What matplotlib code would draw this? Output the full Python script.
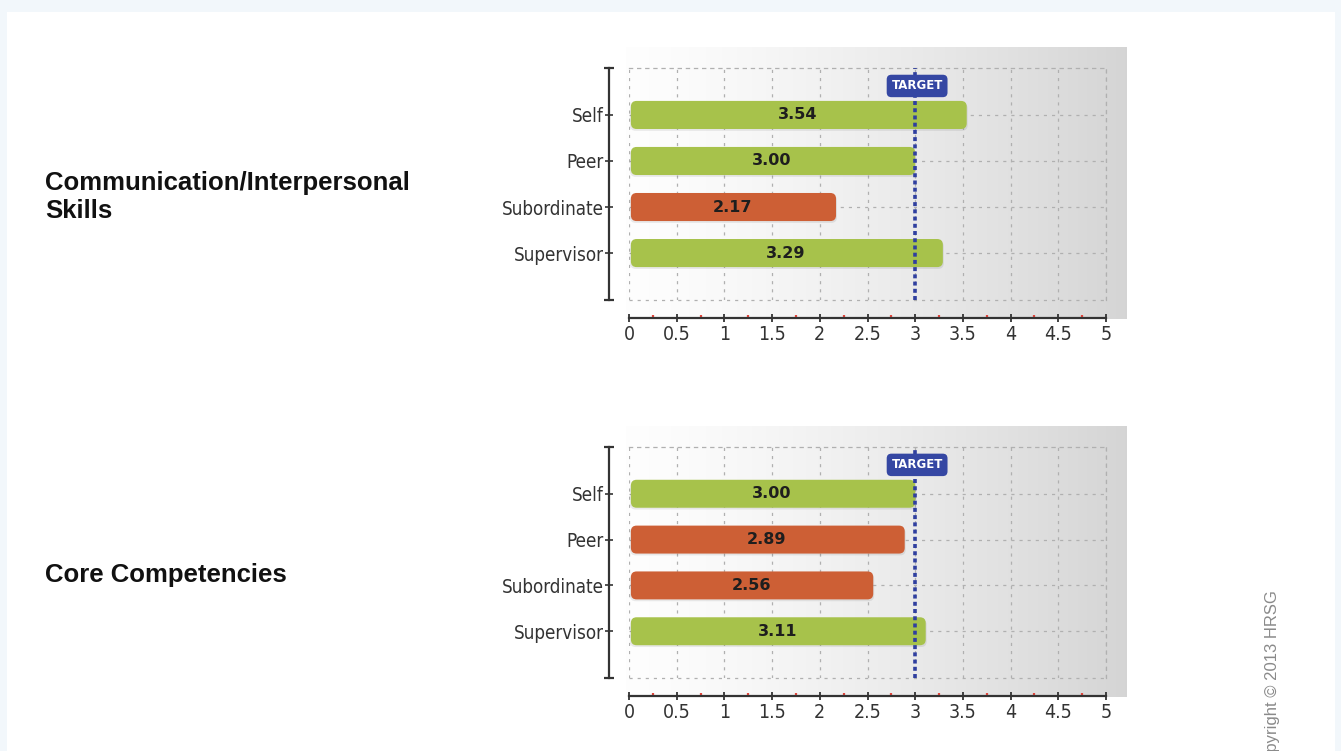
import matplotlib
matplotlib.use('Agg')
import matplotlib.pyplot as plt
import numpy as np
from matplotlib.patches import FancyBboxPatch, Rectangle
from matplotlib.transforms import offset_copy
from matplotlib.ticker import FixedLocator

W, H = 1341, 751

categories = ['Self', 'Peer', 'Subordinate', 'Supervisor']
panel_titles = ['Communication/Interpersonal\nSkills', 'Core Competencies']
comm_values = [3.54, 3.00, 2.17, 3.29]
core_values = [3.00, 2.89, 2.56, 3.11]
panel_values = [comm_values, core_values]
target = 3.0
target_label = 'TARGET'
x_ticks = [0, 0.5, 1, 1.5, 2, 2.5, 3, 3.5, 4, 4.5, 5]
x_tick_labels = ['0', '0.5', '1', '1.5', '2', '2.5', '3', '3.5', '4', '4.5', '5']
x_minor_ticks = [0.25, 0.75, 1.25, 1.75, 2.25, 2.75, 3.25, 3.75, 4.25, 4.75]
copyright_text = 'Copyright \u00a9 2013 HRSG'

GREEN = '#a7c24b'
ORANGE = '#cd5f35'
BLUE = '#2f3f9f'
AXC = '#333333'
GRIDC = '#b0b0b0'


def px(x0, y0, x1, y1):
    return [x0 / W, 1 - y1 / H, (x1 - x0) / W, (y1 - y0) / H]


fig = plt.figure(figsize=(W / 100, H / 100), dpi=100, facecolor='#f2f7fb')
fig.patches.append(Rectangle((7 / W, 0), (1335 - 7) / W, 1 - 12 / H,
                             transform=fig.transFigure, fc='white', ec='none', zorder=-5))

plot_boxes = [(629, 68, 1106, 300), (629, 447, 1106, 678)]
bg_boxes = [(626, 47, 1127, 319), (626, 426, 1127, 697)]
title_y = [197, 575]

grad = np.linspace(0, 1, 256) ** 1.3
lo, hi = 0.995, 0.835
g = lo + (hi - lo) * grad
img = np.dstack([g, g, g]).repeat(2, axis=0)

for i in range(2):
    vals = panel_values[i]
    # background gradient
    bg = fig.add_axes(px(*bg_boxes[i]))
    bg.imshow(img, aspect='auto', extent=(0, 1, 0, 1), interpolation='bilinear')
    bg.axis('off')
    bg.set_zorder(0.1)

    ax = fig.add_axes(px(*plot_boxes[i]))
    ax.set_zorder(1)
    ax.set_facecolor('none')
    ypos = np.arange(len(categories))
    colors = [GREEN if v >= target else ORANGE for v in vals]
    bars = ax.barh(ypos, vals, height=0.61, color=colors, zorder=3)
    ax.set_xlim(0, 5)
    ax.set_ylim(4.02, -1.02)

    # rounded bars
    for b, c in zip(bars, colors):
        x0, y0 = b.get_x(), b.get_y()
        w, h = b.get_width(), b.get_height()
        b.set_visible(False)
        sh = FancyBboxPatch((x0 + 0.01, y0 + 0.04), w, h,
                            boxstyle='round,pad=0,rounding_size=0.06',
                            mutation_aspect=2.07, fc='#000000', alpha=0.08, ec='none', zorder=2.5)
        ax.add_patch(sh)
        fb = FancyBboxPatch((x0 + 0.02, y0), w - 0.02, h,
                            boxstyle='round,pad=0,rounding_size=0.06',
                            mutation_aspect=2.07, fc=c, ec='none', zorder=3)
        ax.add_patch(fb)
        ax.text(x0 + w / 2, y0 + h / 2, f'{w:.2f}', ha='center', va='center',
                fontsize=11.5, fontweight='bold', color='#1e1e1e', zorder=6,
                family='DejaVu Sans')

    # grid
    ax.set_xticks(x_ticks)
    ax.xaxis.set_minor_locator(FixedLocator(x_minor_ticks))
    ax.set_yticks(ypos)
    ax.set_yticklabels(categories)
    ax.grid(True, which='major', color=GRIDC, lw=0.9, ls=(0, (2.5, 4)), zorder=1)
    ax.plot([0, 1], [0, 0], transform=ax.transAxes, color=GRIDC, lw=0.9,
            ls=(0, (2.5, 4)), zorder=1, clip_on=False)

    for s in ['top', 'right']:
        ax.spines[s].set_color(GRIDC)
        ax.spines[s].set_linestyle((0, (2.5, 4)))
        ax.spines[s].set_linewidth(0.9)

    ax.spines['left'].set_position(('outward', 14.4))
    ax.spines['left'].set_color(AXC)
    ax.spines['left'].set_linewidth(1.6)
    ax.spines['bottom'].set_position(('outward', 13.0))
    ax.spines['bottom'].set_color(AXC)
    ax.spines['bottom'].set_linewidth(1.6)

    ax.set_xticklabels(x_tick_labels)
    ax.tick_params(axis='x', which='major', direction='inout', length=6, width=1.3,
                   color=AXC, labelsize=14, labelcolor='#333333', pad=2)
    ax.tick_params(axis='x', which='minor', direction='in', length=2.5, width=1.6,
                   color='#e0463c')
    ax.tick_params(axis='y', direction='inout', length=6, width=1.2, color=AXC,
                   labelsize=13.5, labelcolor='#333333', pad=1)
    for lab in ax.get_xticklabels() + ax.get_yticklabels():
        lab.set_fontstretch('condensed')

    # spine caps
    tr = offset_copy(ax.transAxes, fig=fig, x=-20, y=0, units='dots')
    ax.plot([0, 0], [0, 1], transform=tr, marker='_', markersize=7, mew=1.6,
            color=AXC, ls='none', clip_on=False, zorder=5)

    # target line and label
    ax.axvline(target, color=BLUE, lw=2.6, ls=(0, (1.1, 0.9)), zorder=4)
    ax.text(target + 0.02, -0.63, target_label, ha='center', va='center', fontsize=8.5,
            fontweight='bold', color='white', zorder=7, family='DejaVu Sans',
            bbox=dict(boxstyle='round,pad=0.4,rounding_size=0.4', fc='#3547a3', ec='none'))

    fig.text(45 / W, 1 - title_y[i] / H, panel_titles[i], ha='left', va='center',
             fontsize=18.5, fontweight='bold', color='#111111',
             family=['Liberation Sans', 'DejaVu Sans'], linespacing=1.25)

fig.text(1272 / W, 1 - 590 / H, copyright_text, rotation=90, ha='center', va='top',
         fontsize=12, color='#8a8a8a', family='Liberation Sans')

fig.savefig('out.png', dpi=100, facecolor=fig.get_facecolor())
